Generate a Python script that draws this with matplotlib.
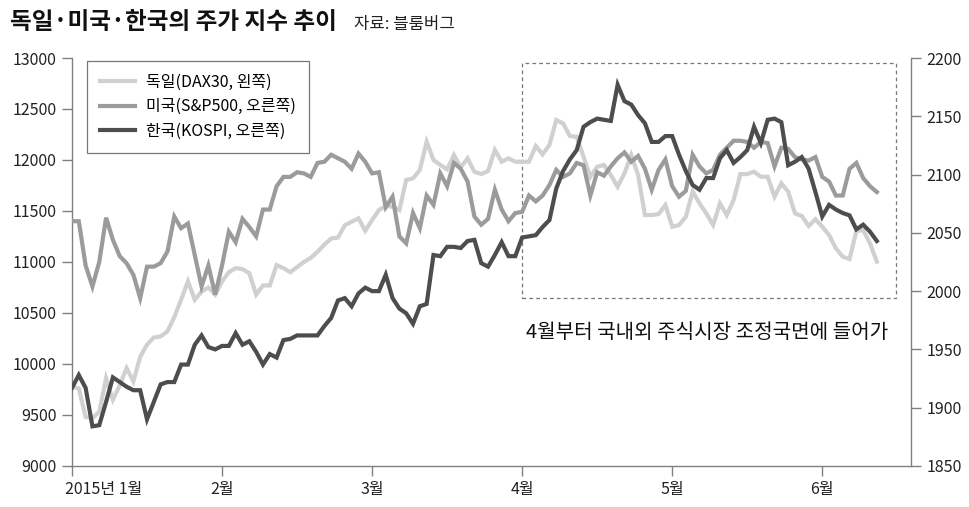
import numpy as np
import matplotlib
matplotlib.use("Agg")
import matplotlib.pyplot as plt
from matplotlib.patches import Rectangle
import matplotlib.transforms as mtransforms

plt.rcParams['font.family'] = ['Noto Sans CJK KR', 'DejaVu Sans']

# --- data (one value per trading day) ---
dax = [9780, 9760, 9480, 9470, 9530, 9860, 9650, 9790, 9960, 9830,
       10070, 10190, 10260, 10270, 10320, 10460, 10630, 10810, 10630, 10710,
       10750, 10680, 10810, 10900, 10940, 10930, 10890, 10680, 10770, 10770,
       10970, 10940, 10900, 10950, 11000, 11040, 11100, 11170, 11230, 11240,
       11360, 11395, 11428, 11307, 11411, 11509, 11549, 11542, 11509, 11804,
       11820, 11902, 12179, 12000, 11951, 11908, 12049, 11928, 12016, 11885,
       11862, 11892, 12098, 11983, 12016, 11983, 11983, 11983, 12137, 12055,
       12147, 12392, 12359, 12235, 12228, 12032, 11836, 11934, 11951, 11853,
       11738, 11869, 12049, 11853, 11460, 11460, 11470, 11558, 11346, 11362,
       11444, 11689, 11575, 11477, 11362, 11575, 11460, 11607, 11862, 11862,
       11885, 11836, 11836, 11640, 11771, 11689, 11477, 11451, 11353, 11418,
       11346, 11264, 11134, 11052, 11029, 11303, 11313, 11183, 11003]

spx = [2060, 2060, 2022, 2004, 2025, 2063, 2044, 2030, 2024, 2014,
       1994, 2021, 2021, 2024, 2034, 2064, 2054, 2058, 2031, 2004,
       2022, 1997, 2022, 2051, 2042, 2062, 2055, 2047, 2070, 2070,
       2090, 2098, 2098, 2102, 2101, 2098, 2110, 2111, 2117, 2114,
       2111, 2105, 2118, 2111, 2101, 2102, 2072, 2081, 2047, 2041,
       2067, 2054, 2082, 2074, 2101, 2090, 2110, 2105, 2094, 2064,
       2057, 2062, 2087, 2070, 2060, 2067, 2068, 2082, 2077, 2082,
       2091, 2104, 2098, 2101, 2110, 2108, 2082, 2102, 2099, 2107,
       2114, 2119, 2111, 2116, 2105, 2087, 2104, 2113, 2090, 2081,
       2086, 2117, 2107, 2101, 2104, 2117, 2123, 2129, 2129, 2128,
       2123, 2128, 2127, 2107, 2123, 2122, 2115, 2113, 2112, 2115,
       2098, 2094, 2082, 2082, 2105, 2110, 2097, 2090, 2085]

kospi = [1917, 1928, 1917, 1884, 1885, 1905, 1926, 1922, 1918, 1915,
         1915, 1890, 1905, 1920, 1922, 1922, 1937, 1937, 1954, 1962,
         1952, 1950, 1953, 1953, 1964, 1954, 1957, 1948, 1937, 1946,
         1943, 1958, 1959, 1962, 1962, 1962, 1962, 1970, 1977, 1992,
         1994, 1987, 1998, 2003, 2000, 2000, 2014, 1994, 1985, 1981,
         1972, 1987, 1989, 2031, 2030, 2038, 2038, 2037, 2043, 2044,
         2024, 2021, 2031, 2042, 2030, 2030, 2046, 2047, 2048, 2055,
         2061, 2088, 2103, 2113, 2121, 2141, 2145, 2148, 2147, 2146,
         2177, 2163, 2160, 2151, 2144, 2128, 2128, 2133, 2133, 2117,
         2103, 2091, 2087, 2097, 2097, 2114, 2121, 2110, 2115, 2121,
         2141, 2127, 2147, 2148, 2145, 2108, 2111, 2115, 2105, 2085,
         2064, 2074, 2070, 2067, 2065, 2053, 2057, 2051, 2043]

month_pos = [0, 22, 44, 66, 88, 110]
month_labels = ['2015년 1월', '2월', '3월', '4월', '5월', '6월']

left_ticks = list(range(9000, 13001, 500))
right_ticks = list(range(1850, 2201, 50))

days = np.arange(len(dax))

c_dax = '#d0d0d0'
c_spx = '#9b9b9b'
c_kospi = '#4d4d4d'
c_axis = '#808080'

fig = plt.figure(figsize=(9.7, 5.07), dpi=100)
ax = fig.add_axes([0.0742, 0.0809, 0.8649, 0.8047])
ax2 = ax.twinx()

l1, = ax.plot(days, dax, color=c_dax, lw=3.0, solid_joinstyle='miter',
              label='독일(DAX30, 왼쪽)')
l2, = ax2.plot(days, spx, color=c_spx, lw=3.0, solid_joinstyle='miter',
               label='미국(S&P500, 오른쪽)')
l3, = ax2.plot(days, kospi, color=c_kospi, lw=3.0, solid_joinstyle='miter',
               label='한국(KOSPI, 오른쪽)')

ax.set_xlim(0, 123)
ax.set_ylim(9000, 13000)
ax2.set_ylim(1850, 2200)
ax.set_yticks(left_ticks)
ax2.set_yticks(right_ticks)
ax.set_xticks(month_pos)
ax.set_xticklabels(month_labels)

for a in (ax, ax2):
    for s in a.spines.values():
        s.set_color(c_axis)
        s.set_linewidth(1.0)
    a.spines['top'].set_visible(False)
ax.spines['right'].set_visible(False)
ax2.spines['left'].set_visible(False)
ax2.spines['bottom'].set_visible(False)

ax.tick_params(axis='both', direction='out', length=7, width=1, color=c_axis,
               labelsize=11.5, labelcolor='#222222', pad=4)
ax2.tick_params(axis='y', direction='out', length=7, width=1, color=c_axis,
                labelsize=11.5, labelcolor='#222222', pad=4)

# first month label starts at the axis rather than centred on it
first = ax.get_xticklabels()[0]
first.set_horizontalalignment('left')
first.set_transform(first.get_transform() +
                    mtransforms.ScaledTranslation(-0.07, 0, fig.dpi_scale_trans))

# dashed box over April-June
box = Rectangle((66, 10650), 54.8, 2300, fill=False, edgecolor='#777777',
                linestyle=(0, (3, 2.5)), lw=0.9, zorder=0)
ax.add_patch(box)
ax.text(0.541, 0.328, '4월부터 국내외 주식시장 조정국면에 들어가',
        transform=ax.transAxes, fontsize=14.5, color='#111111', va='center', ha='left')

leg = ax2.legend(handles=[l1, l2, l3], loc='upper left',
                 bbox_to_anchor=(0.018, 0.993), fontsize=11.5, frameon=True,
                 fancybox=False, edgecolor='#555555', handlelength=2.2,
                 handletextpad=0.7, borderpad=0.8, labelspacing=0.48,
                 borderaxespad=0)
leg.get_frame().set_linewidth(0.9)

fig.text(10 / 970, 1 - 22 / 507, '독일·미국·한국의 주가 지수 추이', fontsize=17,
         fontweight='bold', va='center', ha='left', color='#111111')
fig.text(354 / 970, 1 - 24 / 507, '자료: 블룸버그', fontsize=12,
         va='center', ha='left', color='#222222')

fig.savefig('out.png', dpi=100)
